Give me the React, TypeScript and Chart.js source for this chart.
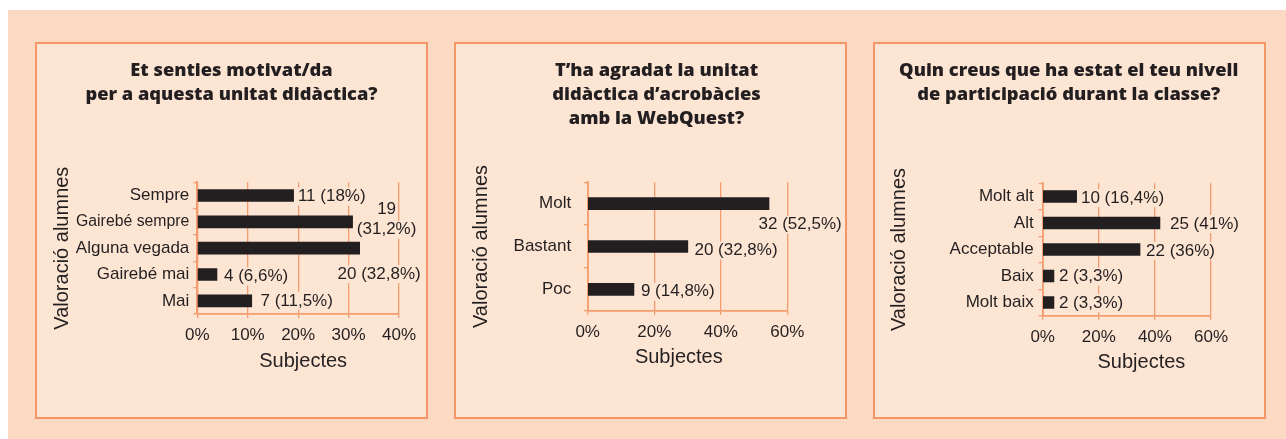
import { useEffect, useRef } from 'react';
import { Chart, registerables } from 'chart.js';

Chart.register(...registerables);

// ---------- data ----------
const motivatTitle = ['Et senties motivat/da', 'per a aquesta unitat didàctica?'];
const motivatCategories = ['Sempre', 'Gairebé sempre', 'Alguna vegada', 'Gairebé mai', 'Mai'];
const motivatValues = [19.1, 30.8, 32.2, 3.9, 10.8];
const motivatLabels = [['11 (18%)'], ['19', '(31,2%)'], ['20 (32,8%)'], ['4 (6,6%)'], ['7 (11,5%)']];
const motivatTicks = ['0%', '10%', '20%', '30%', '40%'];

const agradatTitle = ['T’ha agradat la unitat', 'didàctica d’acrobàcies', 'amb la WebQuest?'];
const agradatCategories = ['Molt', 'Bastant', 'Poc'];
const agradatValues = [54.5, 30.1, 13.9];
const agradatLabels = [['32 (52,5%)'], ['20 (32,8%)'], ['9 (14,8%)']];
const agradatTicks = ['0%', '20%', '40%', '60%'];

const participacioTitle = ['Quin creus que ha estat el teu nivell', 'de participació durant la classe?'];
const participacioCategories = ['Molt alt', 'Alt', 'Acceptable', 'Baix', 'Molt baix'];
const participacioValues = [12.1, 41.8, 34.7, 4.0, 4.0];
const participacioLabels = [['10 (16,4%)'], ['25 (41%)'], ['22 (36%)'], ['2 (3,3%)'], ['2 (3,3%)']];
const participacioTicks = ['0%', '20%', '40%', '60%'];

const yAxisTitle = 'Valoració alumnes';
const xAxisTitle = 'Subjectes';

// ---------- styles ----------
const OUTER_BG = '#FCD9C3';
const PANEL_BG = '#FDE5D4';
const BORDER = '#F59669';
const GRID = '#F59C6E';
const TEXT = '#231F20';
const BAR = '#231F20';
const FONT = "'Liberation Sans', Arial, sans-serif";
const TITLE_FONT = "'Open Sans', 'Liberation Sans', sans-serif";

type Place = { dx: number; dy: number; align: 'left' | 'right' | 'center' };

interface Spec {
  title: string[];
  categories: string[];
  values: number[];
  labels: string[][];
  ticks: string[];
  max: number;
  step: number;
  place: Place[];
  yTickSizes: number[];
  titleX: number;
  padTop: number;
  padRight: number;
  yAxisWidth: number;
  xAxisHeight: number;
  yTickPad: number;
  yTitlePad: number;
  xTitleDx: number;
  xTitleY: number;
}

const specs: Spec[] = [
  {
    title: motivatTitle,
    categories: motivatCategories,
    values: motivatValues,
    labels: motivatLabels,
    ticks: motivatTicks,
    max: 40,
    step: 10,
    place: [
      { dx: 4.3, dy: 1, align: 'left' },
      { dx: 34, dy: -12, align: 'center' },
      { dx: 61, dy: 26, align: 'right' },
      { dx: 7, dy: 2, align: 'left' },
      { dx: 8.7, dy: 0, align: 'left' },
    ],
    yTickSizes: [17, 15.8, 17, 17, 17],
    titleX: 196.5,
    padTop: 140.3,
    padRight: 29,
    yAxisWidth: 162.3,
    xAxisHeight: 105,
    yTickPad: 4,
    yTitlePad: 15,
    xTitleDx: 5,
    xTitleY: 319.7,
  },
  {
    title: agradatTitle,
    categories: agradatCategories,
    values: agradatValues,
    labels: agradatLabels,
    ticks: agradatTicks,
    max: 60,
    step: 20,
    place: [
      { dx: 72.7, dy: 21, align: 'right' },
      { dx: 6.6, dy: 4, align: 'left' },
      { dx: 7, dy: 2.5, align: 'left' },
    ],
    yTickSizes: [17, 17, 17],
    titleX: 202.5,
    padTop: 140.3,
    padRight: 59.7,
    yAxisWidth: 133.7,
    xAxisHeight: 108.3,
    yTickPad: 12.5,
    yTitlePad: 15.7,
    xTitleDx: -8.7,
    xTitleY: 315.3,
  },
  {
    title: participacioTitle,
    categories: participacioCategories,
    values: participacioValues,
    labels: participacioLabels,
    ticks: participacioTicks,
    max: 60,
    step: 20,
    place: [
      { dx: 4.3, dy: 1.5, align: 'left' },
      { dx: 10, dy: 1, align: 'left' },
      { dx: 6, dy: 1.4, align: 'left' },
      { dx: 5, dy: 0.8, align: 'left' },
      { dx: 5, dy: 0.7, align: 'left' },
    ],
    yTickSizes: [17, 17, 17, 17, 17],
    titleX: 195.7,
    padTop: 141.3,
    padRight: 55,
    yAxisWidth: 169.7,
    xAxisHeight: 103.3,
    yTickPad: 5,
    yTitlePad: 14.3,
    xTitleDx: 14.6,
    xTitleY: 320.7,
  },
];

function makeTextPlugin(spec: Spec) {
  return {
    id: 'panelTexts',
    afterDatasetsDraw(chart: any) {
      const { ctx, chartArea } = chart;
      const meta = chart.getDatasetMeta(0);
      ctx.save();
      // value labels
      ctx.font = `17px ${FONT}`;
      ctx.textBaseline = 'middle';
      ctx.textAlign = 'left';
      meta.data.forEach((bar: any, i: number) => {
        const lines = spec.labels[i];
        const p = spec.place[i];
        const { x, y } = bar.getProps(['x', 'y'], true);
        lines.forEach((line: string, j: number) => {
          const tx = x + p.dx;
          const ty = y + p.dy + j * 20;
          const w = ctx.measureText(line).width;
          const left = p.align === 'left' ? tx : p.align === 'right' ? tx - w : tx - w / 2;
          ctx.fillStyle = PANEL_BG;
          ctx.fillRect(left - 2, ty - 9, w + 4, 18);
          ctx.fillStyle = TEXT;
          ctx.fillText(line, left, ty);
        });
      });
      // x axis title
      ctx.font = `20px ${FONT}`;
      ctx.textAlign = 'center';
      ctx.fillStyle = TEXT;
      ctx.fillText(xAxisTitle, (chartArea.left + chartArea.right) / 2 + spec.xTitleDx, spec.xTitleY);
      // chart title
      ctx.font = `800 18.3px ${TITLE_FONT}`;
      spec.title.forEach((line: string, j: number) => {
        ctx.fillText(line, spec.titleX, 29 + j * 24);
      });
      ctx.restore();
    },
  };
}

function makeConfig(spec: Spec): any {
  return {
    type: 'bar',
    data: {
      labels: spec.categories,
      datasets: [
        {
          data: spec.values,
          backgroundColor: BAR,
          borderWidth: 0,
          barThickness: 12,
        },
      ],
    },
    options: {
      indexAxis: 'y',
      responsive: false,
      animation: false,
      events: [],
      layout: { padding: { left: 0, right: spec.padRight, top: spec.padTop, bottom: 0 } },
      plugins: {
        legend: { display: false },
        tooltip: { enabled: false },
        title: { display: false },
      },
      scales: {
        x: {
          type: 'linear',
          min: 0,
          max: spec.max,
          ticks: {
            stepSize: spec.step,
            callback: (_v: any, i: number) => spec.ticks[i],
            color: TEXT,
            font: { family: FONT, size: 17 },
            padding: 7,
            maxRotation: 0,
          },
          grid: { color: GRID, lineWidth: 1.3, tickLength: 4, drawTicks: true, drawOnChartArea: true },
          border: { display: true, color: GRID, width: 1.8 },
          afterFit: (s: any) => {
            s.height = spec.xAxisHeight;
          },
        },
        y: {
          type: 'category',
          ticks: {
            color: TEXT,
            font: (c: any) => ({ family: FONT, size: spec.yTickSizes[c.index] ?? 17 }),
            padding: spec.yTickPad,
            autoSkip: false,
          },
          grid: { display: true, drawOnChartArea: false, drawTicks: true, tickLength: 4, color: GRID, lineWidth: 1.3, offset: true },
          border: { display: true, color: GRID, width: 1.8 },
          title: {
            display: true,
            text: yAxisTitle,
            color: TEXT,
            font: { family: FONT, size: 20, lineHeight: 1.2 },
            padding: { top: spec.yTitlePad, bottom: 0 },
          },
          afterFit: (s: any) => {
            s.width = spec.yAxisWidth;
          },
        },
      },
    },
    plugins: [makeTextPlugin(spec)],
  };
}

function Panel({ spec, left }: { spec: Spec; left: number }) {
  const ref = useRef<HTMLCanvasElement>(null);
  useEffect(() => {
    const chart = new Chart(ref.current as HTMLCanvasElement, makeConfig(spec));
    return () => chart.destroy();
  }, [spec]);
  return (
    <div style={{ position: 'absolute', left, top: 32, width: 393, height: 377, background: PANEL_BG }}>
      <canvas ref={ref} width={393} height={377} style={{ display: 'block', width: 393, height: 377 }} />
      <div
        style={{
          position: 'absolute',
          inset: 0,
          border: `2px solid ${BORDER}`,
          boxSizing: 'border-box',
          pointerEvents: 'none',
        }}
      />
    </div>
  );
}

export default function App() {
  return (
    <div
      style={{
        position: 'absolute',
        left: 8,
        top: 10,
        width: 1278,
        height: 429,
        background: OUTER_BG,
        overflow: 'hidden',
      }}
    >
      <Panel spec={specs[0]} left={27} />
      <Panel spec={specs[1]} left={446} />
      <Panel spec={specs[2]} left={865} />
    </div>
  );
}
